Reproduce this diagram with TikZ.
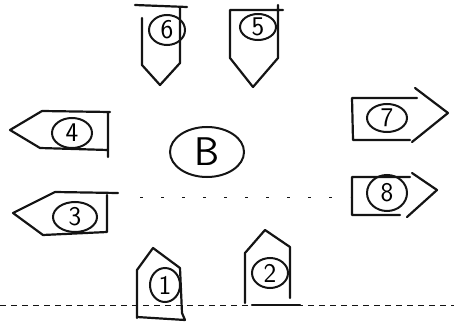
\documentclass[tikz,border=0pt]{standalone}
\usepackage{tikz}
\usetikzlibrary{shapes.geometric}
\definecolor{penink}{RGB}{20,20,20}
\tikzset{
  tag/.style={draw=penink,line width=2.2pt,line join=round,line cap=round},
  num/.style={draw=penink,ellipse,line width=2pt,inner sep=0pt,
    font=\sffamily\fontsize{27}{27}\selectfont},
  rule/.style={penink,line width=1pt,dash pattern=on 6pt off 5pt}
}

\begin{document}
\begin{tikzpicture}[x=1pt,y=-1pt]
  \useasboundingbox (0,0) rectangle (454,323);
  % guide lines
  \draw[rule] (0,305) -- (454,305);
  \draw[rule,dash pattern=on 3pt off 18pt] (140,197) -- (350,197);
  % arrows pointing down
  \draw[tag] (135,5) -- (187,7) (142,18) -- (142,65) -- (160,85) -- (180,63) -- (180,7);
  \draw[tag] (230,10) -- (283,10) (230,10) -- (230,58) -- (253,87) -- (278,58) -- (278,5);
  % arrows pointing left
  \draw[tag] (42,111) -- (110,112) (108,112) -- (108,157) (108,150) -- (40,148) -- (10,130) -- (42,111);
  \draw[tag] (55,192) -- (118,193) (107,195) -- (107,232) -- (43,235) -- (13,213) -- (55,192);
  % arrows pointing right
  \draw[tag] (352,98) -- (417,98) (352,98) -- (353,140) -- (410,140) (415,88) -- (448,113) -- (412,142);
  \draw[tag] (352,177) -- (410,177) (352,177) -- (352,215) -- (400,215) (412,173) -- (437,190) -- (407,217);
  % arrows pointing up
  \draw[tag] (137,318) -- (137,270) -- (153,248) -- (180,268) -- (182,313) -- (185,320) -- (137,317);
  \draw[tag] (245,303) -- (245,253) -- (265,230) -- (290,247) -- (290,298);
  \draw[tag] (252,305) -- (300,305);
  % labels
  \node[num,minimum width=36pt,minimum height=30pt] (n6) at (167,30) {6};
  \node[num,minimum width=36pt,minimum height=26pt] (n5) at (258,27) {5};
  \node[num,minimum width=40pt,minimum height=30pt] (n4) at (72,133) {4};
  \node[num,minimum width=44pt,minimum height=30pt] (n3) at (75,217) {3};
  \node[num,minimum width=40pt,minimum height=28pt] (n7) at (387,118) {7};
  \node[num,minimum width=40pt,minimum height=36pt] (n8) at (387,193) {8};
  \node[num,minimum width=30pt,minimum height=34pt] (n1) at (165,285) {1};
  \node[num,minimum width=36pt,minimum height=30pt] (n2) at (270,273) {2};
  \node[num,minimum width=74pt,minimum height=50pt,font=\sffamily\fontsize{40}{40}\selectfont] (nb) at (207,152) {B};
\end{tikzpicture}
\end{document}
